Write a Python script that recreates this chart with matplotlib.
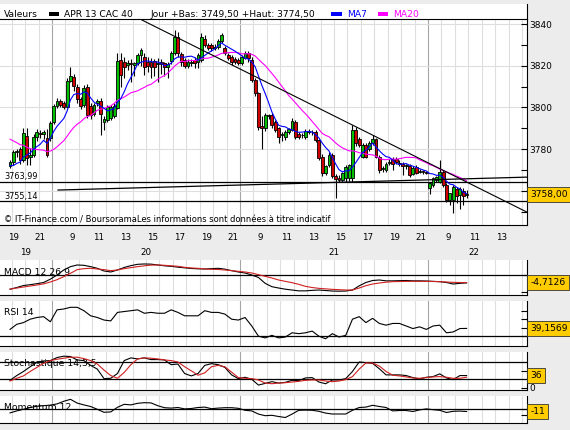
import matplotlib
matplotlib.use("Agg")
import matplotlib.pyplot as plt
import numpy as np
import pandas as pd
from matplotlib.patches import Rectangle
from matplotlib.lines import Line2D
import matplotlib.transforms as mtrans

# ---------------- data (APR 13 CAC 40 future, 15-minute candles) ----------------
first_bar_x = 10.75          # session hours since 19th 08:00 (14 session hours per day)
bar_hours = 0.25
prior_closes = [3795, 3796, 3794, 3793, 3795, 3792, 3790, 3791, 3789, 3792, 3790, 3788, 3785,
                3778, 3772, 3770, 3771, 3769, 3770]

opens = [3771.8, 3773.9, 3778.5, 3780.0, 3774.7, 3786.4, 3776.0, 3777.1, 3785.7, 3787.5,
         3787.0, 3785.3, 3785.3, 3793.0, 3800.6, 3803.0, 3802.0, 3800.0, 3812.8, 3814.7,
         3810.0, 3804.0, 3801.0, 3809.8, 3800.6, 3797.0, 3802.0, 3803.0, 3793.0, 3794.0,
         3795.0, 3796.0, 3799.7, 3822.7, 3822.0, 3820.5, 3821.5, 3820.5, 3821.4, 3825.0,
         3824.3, 3822.0, 3822.0, 3822.2, 3821.0, 3822.0, 3821.5, 3819.5, 3822.4, 3825.9,
         3833.9, 3825.6, 3822.5, 3820.0, 3821.5, 3822.5, 3822.0, 3822.7, 3833.0, 3830.0,
         3830.0, 3828.5, 3829.0, 3832.0, 3828.5, 3825.0, 3824.3, 3823.0, 3822.7, 3821.4,
         3823.7, 3826.0, 3822.7, 3813.1, 3806.7, 3791.0, 3789.9, 3796.0, 3796.3, 3793.1,
         3789.9, 3786.5, 3785.9, 3788.0, 3789.1, 3793.1, 3787.0, 3786.5, 3785.6, 3788.0,
         3788.0, 3788.0, 3784.3, 3776.3, 3768.3, 3772.3, 3777.1, 3767.0, 3766.0, 3765.0,
         3766.0, 3766.0, 3766.0, 3789.1, 3785.0, 3776.3, 3781.9, 3780.0, 3782.9, 3784.8,
         3776.3, 3770.5, 3769.9, 3773.5, 3775.0, 3775.0, 3773.5, 3773.0, 3772.0, 3771.8,
         3768.0, 3771.5, 3769.0, 3769.5, 3769.0, 3761.1, 3762.7, 3765.0, 3764.3, 3769.1,
         3762.7, 3755.5, 3755.5, 3761.0, 3758.0, 3760.0, 3758.0]
highs = [3774.5, 3779.5, 3780.0, 3781.0, 3790.0, 3790.0, 3780.5, 3787.0, 3789.5, 3789.0,
         3789.0, 3789.5, 3793.5, 3801.5, 3804.5, 3804.0, 3803.0, 3814.0, 3819.5, 3816.0,
         3811.0, 3805.0, 3810.5, 3811.0, 3802.0, 3802.0, 3804.0, 3804.5, 3796.0, 3801.0,
         3801.0, 3802.0, 3826.0, 3826.0, 3824.0, 3822.5, 3823.0, 3822.0, 3826.0, 3828.5,
         3826.0, 3824.0, 3823.5, 3823.0, 3823.5, 3823.0, 3822.0, 3822.0, 3827.0, 3837.0,
         3836.0, 3826.5, 3823.5, 3823.0, 3823.0, 3824.0, 3826.0, 3835.7, 3834.5, 3831.0,
         3831.0, 3830.5, 3833.0, 3835.5, 3829.5, 3826.0, 3825.0, 3824.0, 3823.5, 3825.0,
         3827.0, 3827.0, 3824.0, 3814.0, 3807.5, 3796.0, 3797.5, 3797.0, 3797.5, 3794.0,
         3790.5, 3788.0, 3789.0, 3790.0, 3795.0, 3794.0, 3788.0, 3787.5, 3789.5, 3789.5,
         3789.0, 3789.0, 3785.0, 3777.5, 3772.5, 3778.5, 3778.0, 3768.0, 3767.5, 3769.0,
         3772.5, 3773.0, 3791.5, 3790.5, 3786.0, 3783.0, 3783.0, 3784.0, 3786.7, 3785.5,
         3777.0, 3772.0, 3774.0, 3775.0, 3776.0, 3776.0, 3774.5, 3774.0, 3773.0, 3773.0,
         3772.0, 3772.5, 3770.5, 3770.0, 3769.5, 3764.0, 3766.5, 3767.0, 3774.5, 3770.0,
         3763.5, 3759.0, 3762.5, 3762.0, 3762.0, 3761.5, 3760.5]
lows = [3770.7, 3772.5, 3776.0, 3773.0, 3774.0, 3772.3, 3772.3, 3776.0, 3784.0, 3785.5,
        3785.0, 3776.0, 3784.0, 3792.0, 3799.5, 3800.0, 3799.0, 3799.5, 3812.0, 3808.0,
        3802.0, 3799.0, 3800.0, 3795.0, 3794.5, 3796.0, 3800.5, 3786.7, 3789.0, 3793.0,
        3794.0, 3795.0, 3799.0, 3810.0, 3814.0, 3818.0, 3812.0, 3815.0, 3820.5, 3820.0,
        3815.5, 3817.0, 3814.0, 3815.0, 3812.0, 3816.0, 3815.0, 3814.0, 3821.0, 3825.0,
        3824.0, 3820.0, 3819.0, 3819.0, 3820.0, 3819.0, 3819.0, 3822.0, 3829.0, 3827.5,
        3827.0, 3827.5, 3828.0, 3831.0, 3825.0, 3822.5, 3820.5, 3821.0, 3820.5, 3820.5,
        3823.0, 3822.0, 3812.0, 3805.5, 3789.0, 3780.0, 3788.5, 3794.5, 3790.0, 3788.0,
        3783.0, 3784.0, 3784.5, 3787.0, 3788.5, 3785.0, 3785.0, 3785.5, 3785.0, 3787.0,
        3786.5, 3783.5, 3774.5, 3767.0, 3767.5, 3771.5, 3766.0, 3756.3, 3764.0, 3764.0,
        3764.0, 3764.5, 3764.3, 3781.5, 3781.0, 3775.5, 3775.5, 3779.0, 3782.0, 3775.5,
        3768.5, 3769.0, 3769.0, 3772.5, 3770.0, 3773.0, 3772.0, 3767.5, 3770.5, 3766.5,
        3767.5, 3768.0, 3768.5, 3768.0, 3768.0, 3758.5, 3762.0, 3764.0, 3763.5, 3762.0,
        3754.5, 3753.0, 3749.5, 3754.0, 3751.0, 3753.0, 3756.5]
closes = [3773.9, 3778.7, 3779.0, 3774.7, 3787.7, 3775.8, 3777.0, 3785.9, 3788.0, 3787.0,
          3788.0, 3777.0, 3792.5, 3800.6, 3803.2, 3801.0, 3800.0, 3812.8, 3815.2, 3810.2,
          3803.9, 3800.6, 3809.3, 3796.3, 3796.3, 3801.0, 3803.0, 3796.8, 3794.4, 3800.0,
          3800.0, 3800.5, 3822.2, 3815.5, 3819.5, 3821.5, 3821.0, 3821.5, 3825.0, 3827.5,
          3819.2, 3820.0, 3819.5, 3819.5, 3821.5, 3821.0, 3819.5, 3821.0, 3826.2, 3833.9,
          3825.9, 3821.9, 3820.0, 3822.0, 3822.0, 3821.5, 3825.0, 3833.9, 3830.0, 3828.5,
          3828.5, 3829.0, 3832.0, 3834.5, 3826.0, 3823.5, 3821.9, 3822.0, 3821.4, 3824.0,
          3826.0, 3823.7, 3813.1, 3806.7, 3790.7, 3790.0, 3796.3, 3796.3, 3791.5, 3789.1,
          3785.9, 3787.0, 3788.3, 3789.5, 3793.4, 3786.0, 3786.0, 3786.5, 3788.6, 3788.6,
          3788.0, 3784.3, 3775.5, 3768.3, 3771.8, 3777.1, 3767.0, 3765.5, 3765.1, 3768.5,
          3771.5, 3772.3, 3789.1, 3782.7, 3782.0, 3781.9, 3776.3, 3783.0, 3784.8, 3776.3,
          3769.9, 3771.0, 3773.0, 3774.0, 3773.0, 3774.0, 3773.0, 3772.0, 3772.0, 3767.5,
          3771.0, 3768.6, 3769.5, 3769.0, 3768.5, 3763.5, 3765.9, 3766.5, 3769.1, 3762.7,
          3755.5, 3758.7, 3761.6, 3757.5, 3761.0, 3757.5, 3758.0]
last_day_first_bar = 125

# indicators, one value every 2 bars
ind_step = 2
macd = [-8.5, -7.5, -6.3, -5.8, -5.2, -4.5, -2.5, 0, 3, 5, 6, 5.8, 5, 4, 2.4, 1.8, 3, 4.5, 5.6,
        6.4, 6.6, 6.5, 6.0, 5.5, 5.2, 4.7, 4.3, 3.9, 3.7, 3.6, 3.8, 4.0, 3.5, 2.6, 1.8, 1.2, 0,
        -1.5, -5, -7, -7.8, -8.5, -9, -9.5, -9.5, -9.2, -9, -9.3, -9.6, -9.7, -9.6, -9, -6.5,
        -4.5, -3.3, -3, -3.5, -3.5, -3.4, -3.3, -3.5, -3.5, -3.6, -3.8, -4, -4.5, -5.4, -5.0,
        -4.7126]
macd_signal = [-8.5, -7.8, -7.2, -6.6, -6.0, -5.3, -4.2, -2.8, -1.0, 1.0, 3.2, 3.8, 4.0, 3.6,
               3.2, 2.6, 3.0, 3.8, 4.4, 5.0, 5.5, 5.9, 6.0, 5.8, 5.5, 5.2, 4.6, 4.2, 4.0, 3.6,
               3.4, 3.3, 3.0, 2.6, 2.2, 1.8, 1.2, 0.2, -0.8, -1.8, -3.0, -3.8, -4.6, -5.6, -6.8,
               -7.5, -8.0, -8.3, -8.6, -8.8, -9.0, -9.0, -7.8, -6.4, -5.4, -4.8, -4.3, -4.0,
               -3.9, -3.8, -3.8, -3.8, -3.8, -3.9, -4.0, -4.2, -4.4, -4.5, -4.6]
rsi = [38, 44, 46, 50, 52, 53, 47, 61, 62, 64, 64, 60, 54, 52, 49, 48, 58, 59, 60, 61, 57, 58,
       57, 57, 61, 58, 54, 54, 54, 60, 58, 58, 56, 50, 49, 52, 42, 30, 28, 31, 28, 29, 34, 33,
       34, 36, 30, 27, 33, 29, 31, 50, 53, 46, 51, 45, 43, 45, 45, 42, 39, 41, 38, 42, 43, 34,
       35, 39, 39.1569]
stoch_k = [22, 36, 48, 62, 75, 79, 80, 89, 93, 92, 82, 80, 66, 55, 27, 28, 42, 80, 88, 85, 88,
           83, 83, 82, 68, 70, 42, 35, 42, 66, 71, 68, 60, 38, 27, 31, 25, 8, 13, 18, 14, 16,
           22, 21, 29, 30, 17, 12, 23, 23, 27, 48, 76, 74, 72, 56, 38, 38, 38, 36, 30, 26, 31,
           33, 41, 29, 24, 36, 36]
stoch_d = [20, 28, 35, 48, 60, 72, 80, 84, 87, 90, 90, 86, 80, 70, 52, 36, 28, 45, 68, 85, 88,
           87, 85, 82, 80, 76, 62, 50, 37, 44, 62, 66, 62, 46, 30, 28, 27, 23, 14, 12, 14, 15,
           17, 19, 22, 23, 23, 20, 18, 20, 24, 33, 55, 73, 73, 64, 48, 37, 35, 32, 29, 28, 30,
           32, 33, 31, 28, 28, 31]
momentum = [-18, -8, 0, 9, 15, 18, 21, 27, 40, 50, 31, 22, 14, 0, -15, -13, 10, 25, 22, 30, 33,
            32, 18, 8, 6, 9, 2, 4, 9, 11, 3, 6, 8, 8, 5, -5, -8, -24, -32, -30, -36, -41, -24,
            -5, -4, -5, -10, -19, -23.5, -23.5, -23.5, -5, 9, 11, 20, 14, 9, -8, -6, -6, -11,
            -3, 2, -2, -5, -16, -10, -9, -11]

# chart annotations (session hours, price)
downtrend_t = [20.70, 49.37]
downtrend_p = [3841.9, 3749.7]
uptrend_t = [14.45, 49.37]
uptrend_p = [3760.3, 3766.5]
levels = [3763.99, 3755.14]

day_names = ['19', '20', '21', '22']
hour_labels = [[19, 21], [9, 11, 13, 15, 17, 19, 21], [9, 11, 13, 15, 17, 19, 21], [9, 11, 13]]

# ---------------- styling / layout ----------------
W, H = 570, 430
BG = '#ececec'
GRID = '#dedede'
DAYGRID = '#a6a6a6'
GREEN = '#00c000'
RED = '#d00000'
LRED = '#d02020'
BOX = '#ffcc00'
plt.rcParams['font.family'] = ['DejaVu Sans']

fig = plt.figure(figsize=(W / 100, H / 100), dpi=100, facecolor=BG)

PX_PER_H = 188 / 14
X0_PX = 52 - 14 * PX_PER_H
XMIN = (0 - X0_PX) / PX_PER_H
XMAX = (527 - X0_PX) / PX_PER_H


def h2px(h):
    return X0_PX + h * PX_PER_H


def fx(px):
    return px / W


def fy(py):
    return 1 - py / H


def fmt(v, d=2):
    return f'{v:.{d}f}'.replace('.', ',')


def px_axes(x0, y0, x1, y1):
    ax = fig.add_axes([x0 / W, 1 - y1 / H, (x1 - x0) / W, (y1 - y0) / H])
    ax.set_facecolor('white')
    ax.set_xlim(XMIN, XMAX)
    for s in ['left', 'top']:
        ax.spines[s].set_visible(False)
    for s in ['right', 'bottom']:
        ax.spines[s].set_color('black')
        ax.spines[s].set_linewidth(0.8)
    ax.set_xticks([])
    ax.yaxis.tick_right()
    ax.tick_params(axis='y', which='both', direction='in', length=4, width=0.8, pad=1.8,
                   labelsize=6.5, colors='black')
    for hh in range(int(np.ceil(XMIN)), int(XMAX) + 1):
        ax.axvline(hh, color=DAYGRID if hh % 14 == 0 else GRID, lw=0.8, zorder=0.5)
    return ax


def value_box(ax, yval, text):
    tr = mtrans.blended_transform_factory(fig.transFigure, ax.transData)
    ax.text(fx(530.3), yval, text, transform=tr, ha='left', va='center', fontsize=6.6,
            clip_on=False, zorder=20,
            bbox=dict(boxstyle='square,pad=0.33', fc=BOX, ec='#333333', lw=0.6))


def panel_label(ax, text, base_px):
    ax.text(fx(4), fy(base_px), text, transform=fig.transFigure, ha='left', va='baseline',
            fontsize=6.7, zorder=1)


n = len(closes)
bx = first_bar_x + bar_hours * (np.arange(n) + 0.5)
o = np.array(opens); c = np.array(closes); hi = np.array(highs); lo = np.array(lows)

# ---------------- header ----------------
fig.add_artist(Rectangle((0, fy(19)), fx(527), 15 / H, transform=fig.transFigure,
                         fc='white', ec='none', zorder=0))
fig.add_artist(Line2D([fx(527), fx(527)], [fy(4), fy(19)], color='black', lw=0.8,
                      transform=fig.transFigure))
day_lo = min(lows[last_day_first_bar:])
day_hi = max(highs[last_day_first_bar:])
hdr = [(4, 'Valeurs', 'black'), (64, 'APR 13 CAC 40', 'black'),
       (151, f'Jour +Bas: {fmt(day_lo)} +Haut: {fmt(day_hi)}', 'black'),
       (347, 'MA7', '#0000ff'), (393, 'MA20', '#ff00ff')]
for x, t, col in hdr:
    fig.text(fx(x), fy(17.3), t, fontsize=6.6, color=col, ha='left', va='baseline')
for x0, x1, col in [(49, 59, 'black'), (331, 342, '#0000ff'), (378, 388, '#ff00ff')]:
    fig.add_artist(Rectangle((fx(x0), fy(16)), fx(x1) - fx(x0), 4 / H,
                             transform=fig.transFigure, fc=col, ec='none'))

# ---------------- main price panel ----------------
ax = px_axes(0, 19, 527, 225)
ax.spines['top'].set_visible(True)
ax.spines['top'].set_color('black')
ax.spines['top'].set_linewidth(0.8)
ax.set_ylim(3743.52, 3842.4)
ax.set_yticks(np.arange(3760, 3841, 20))
ax.set_yticks(np.arange(3750, 3841, 10), minor=True)
ax.set_yticklabels(['' if v == 3760 else f'{v}' for v in range(3760, 3841, 20)])
for lvl in range(3760, 3841, 20):
    ax.axhline(lvl, color=GRID, lw=0.8, zorder=0.5)

for lvl, base in zip(levels, [179.3, 198.8]):
    ax.axhline(lvl, color='black', lw=0.9, zorder=2)
    ax.text(fx(4), fy(base), fmt(lvl), transform=fig.transFigure, fontsize=5.9,
            ha='left', va='baseline', zorder=2)

ax.vlines(bx, lo, hi, color='black', lw=0.8, zorder=3)
body_bot = np.minimum(o, c)
body_h = np.maximum(np.abs(c - o), 0.35)
cols = np.where(c >= o, GREEN, RED)
ax.bar(bx, body_h, bottom=body_bot, width=0.21, color=cols, edgecolor='black',
       linewidth=0.6, zorder=4)

s = pd.Series(prior_closes + closes, dtype=float)
ma7 = s.rolling(7).mean().to_numpy()[len(prior_closes):]
ma20 = s.rolling(20).mean().to_numpy()[len(prior_closes):]
ax.plot(bx, ma20, color='#ff00ff', lw=0.8, zorder=5)
ax.plot(bx, ma7, color='#0000ff', lw=0.8, zorder=5)
ax.plot(downtrend_t, downtrend_p, color='black', lw=0.8, zorder=6)
ax.plot(uptrend_t, uptrend_p, color='black', lw=0.9, zorder=6)

ax.text(fx(4), fy(222.3),
        '\u00a9 IT-Finance.com / BoursoramaLes informations sont données à titre indicatif',
        transform=fig.transFigure, fontsize=6.0, ha='left', va='baseline', zorder=7)
value_box(ax, closes[-1], fmt(closes[-1]))

# ---------------- date band ----------------
for d, hours in enumerate(hour_labels):
    for hr in hours:
        xh = d * 14 + (hr - 8) + (0.1 if d == 0 else 0.5)
        fig.text(fx(h2px(xh)), fy(240), str(hr), fontsize=6.3, ha='center', va='baseline')
day_centers = [(XMIN + 14) / 2, 21, 35, (42 + bx[-1] + 4) / 2]
for name, xc in zip(day_names, day_centers):
    fig.text(fx(h2px(xc)), fy(255), name, fontsize=6.3, ha='center', va='baseline')

ix = bx[0] + bar_hours * ind_step * np.arange(len(macd))

# ---------------- MACD ----------------
a1 = px_axes(0, 260, 527, 295)
a1.set_ylim(-11.98, 8.98)
a1.set_yticks([0, -10]); a1.set_yticklabels(['', ''])
a1.axhline(0, color='black', lw=0.9, zorder=2)
panel_label(a1, 'MACD 12 26 9', 275)
a1.plot(ix, macd, color='black', lw=0.8, zorder=3)
a1.plot(ix, macd_signal, color=LRED, lw=0.8, zorder=4)
value_box(a1, macd[-1], fmt(macd[-1], 4))

# ---------------- RSI ----------------
a2 = px_axes(0, 300.7, 527, 346)
a2.set_ylim(18.47, 71.76)
a2.set_yticks([30, 40, 50, 60]); a2.set_yticklabels(['', '', '', ''])
a2.axhline(30, color='black', lw=0.9, zorder=2)
panel_label(a2, 'RSI 14', 315)
a2.plot(ix, rsi, color='black', lw=0.8, zorder=3)
value_box(a2, rsi[-1], fmt(rsi[-1], 4))

# ---------------- Stochastic ----------------
a3 = px_axes(0, 351.7, 527, 390)
a3.set_ylim(-6.47, 106.2)
a3.set_yticks([0, 50]); a3.set_yticklabels(['0', ''])
a3.axhline(75, color='black', lw=0.9, zorder=2)
a3.axhline(25, color='black', lw=0.9, zorder=2)
panel_label(a3, 'Stochastique 14,3,5', 366)
a3.plot(ix, stoch_k, color='black', lw=0.8, zorder=3)
a3.plot(ix, stoch_d, color=LRED, lw=0.8, zorder=4)
value_box(a3, stoch_k[-1], f'{stoch_k[-1]:.0f}')

# ---------------- Momentum ----------------
a4 = px_axes(0, 396, 527, 422.7)
a4.set_ylim(-67, 66.5)
a4.set_yticks([0, -30]); a4.set_yticklabels(['', ''])
a4.axhline(0, color='black', lw=0.9, zorder=2)
panel_label(a4, 'Momentum 12', 410)
a4.plot(ix, momentum, color='black', lw=0.8, zorder=3)
value_box(a4, momentum[-1], f'{momentum[-1]:.0f}')

fig.savefig('out.png', dpi=100, facecolor=BG)
